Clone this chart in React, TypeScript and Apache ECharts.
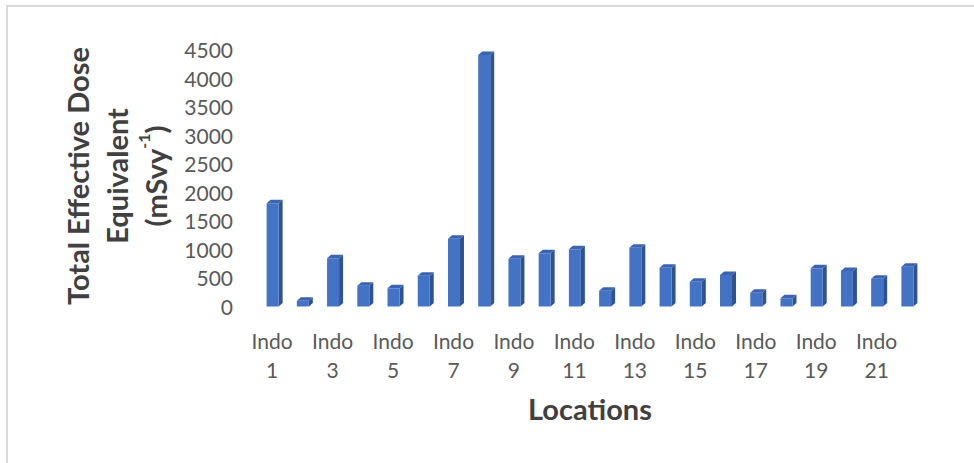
import React, { useEffect, useRef } from "react";
import * as echarts from "echarts";

// Total effective dose equivalent per sampling location (mSv/y)
const locations: string[] = [
  "Indo 1", "Indo 2", "Indo 3", "Indo 4", "Indo 5", "Indo 6", "Indo 7", "Indo 8",
  "Indo 9", "Indo 10", "Indo 11", "Indo 12", "Indo 13", "Indo 14", "Indo 15", "Indo 16",
  "Indo 17", "Indo 18", "Indo 19", "Indo 20", "Indo 21", "Indo 22",
];
const doseValues: number[] = [
  1810, 100, 845, 364, 319, 539, 1187, 4404,
  837, 932, 1002, 277, 1030, 680, 434, 552,
  242, 144, 669, 622, 487, 697,
];
const yMin = 0;
const yMax = 4500;
const yStep = 500;

const FONT = "Lato, 'Noto Sans', sans-serif";

export default function App() {
  const ref = useRef<HTMLDivElement>(null);

  useEffect(() => {
    if (!ref.current) return;
    const chart = echarts.init(ref.current, undefined, { renderer: "svg" });

    // Column with a shaded side and top face to give a 3D look
    const renderColumn = (params: any, api: any) => {
      const idx = api.value(0);
      const val = api.value(1);
      const top = api.coord([idx, val]);
      const base = api.coord([idx, 0]);
      const w = 12;
      const dx = 4;
      const dy = 3.5;
      const left = top[0] - w / 2 + 0.5;
      const right = left + w;
      const t = top[1];
      const b = base[1];
      return {
        type: "group",
        children: [
          {
            type: "polygon",
            shape: {
              points: [
                [right, t],
                [right + dx, t - dy],
                [right + dx, b - dy],
                [right, b],
              ],
            },
            style: { fill: "#2F5291" },
          },
          {
            type: "polygon",
            shape: {
              points: [
                [left, t],
                [left + dx, t - dy],
                [right + dx, t - dy],
                [right, t],
              ],
            },
            style: { fill: "#3A63B0" },
          },
          {
            type: "rect",
            shape: { x: left, y: t, width: w, height: b - t },
            style: { fill: "#4472C4" },
          },
        ],
      };
    };

    chart.setOption({
      animation: false,
      backgroundColor: "#ffffff",
      grid: { left: 257, right: 52, top: 49.5, bottom: 156.5, containLabel: false },
      xAxis: {
        type: "category",
        data: locations,
        axisLine: { show: false },
        axisTick: { show: false },
        axisLabel: {
          interval: 1,
          margin: 19,
          color: "#595959",
          fontFamily: FONT,
          fontSize: 21,
          lineHeight: 29,
          formatter: (s: string) => s.replace(" ", "\n"),
        },
      },
      yAxis: {
        type: "value",
        min: yMin,
        max: yMax,
        interval: yStep,
        axisLine: { show: false },
        axisTick: { show: false },
        splitLine: { show: false },
        axisLabel: {
          margin: 24,
          color: "#595959",
          fontFamily: FONT,
          fontSize: 21,
          padding: [5, 0, 0, 0],
          formatter: (v: number) => String(v),
        },
      },
      graphic: [
        {
          type: "rect",
          silent: true,
          shape: { x: 7, y: 6, width: 1100, height: 600 },
          style: { fill: "none", stroke: "#d9d9d9", lineWidth: 2 },
        },
        {
          type: "text",
          x: 116,
          y: 176,
          rotation: Math.PI / 2,
          style: {
            text: "Total Effective Dose\nEquivalent\n(mSvy{sup|-1})",
            fontFamily: FONT,
            fontWeight: "bold",
            fontSize: 29,
            lineHeight: 39,
            fill: "#404040",
            align: "center",
            verticalAlign: "middle",
            rich: {
              sup: {
                fontFamily: FONT,
                fontWeight: "bold",
                fontSize: 16,
                fill: "#404040",
                verticalAlign: "top",
                lineHeight: 30,
              },
            },
          },
        },
        {
          type: "text",
          x: 590,
          y: 408,
          style: {
            text: "Locations",
            fontFamily: FONT,
            fontWeight: "bold",
            fontSize: 29,
            fill: "#404040",
            align: "center",
            verticalAlign: "middle",
          },
        },
      ],
      series: [
        {
          type: "custom",
          renderItem: renderColumn,
          data: doseValues.map((v, i) => [i, v]),
          encode: { x: 0, y: 1 },
        },
      ],
    });

    return () => chart.dispose();
  }, []);

  return (
    <div
      ref={ref}
      style={{ position: "fixed", left: 0, top: 0, width: 974, height: 463, background: "#fff" }}
    />
  );
}
